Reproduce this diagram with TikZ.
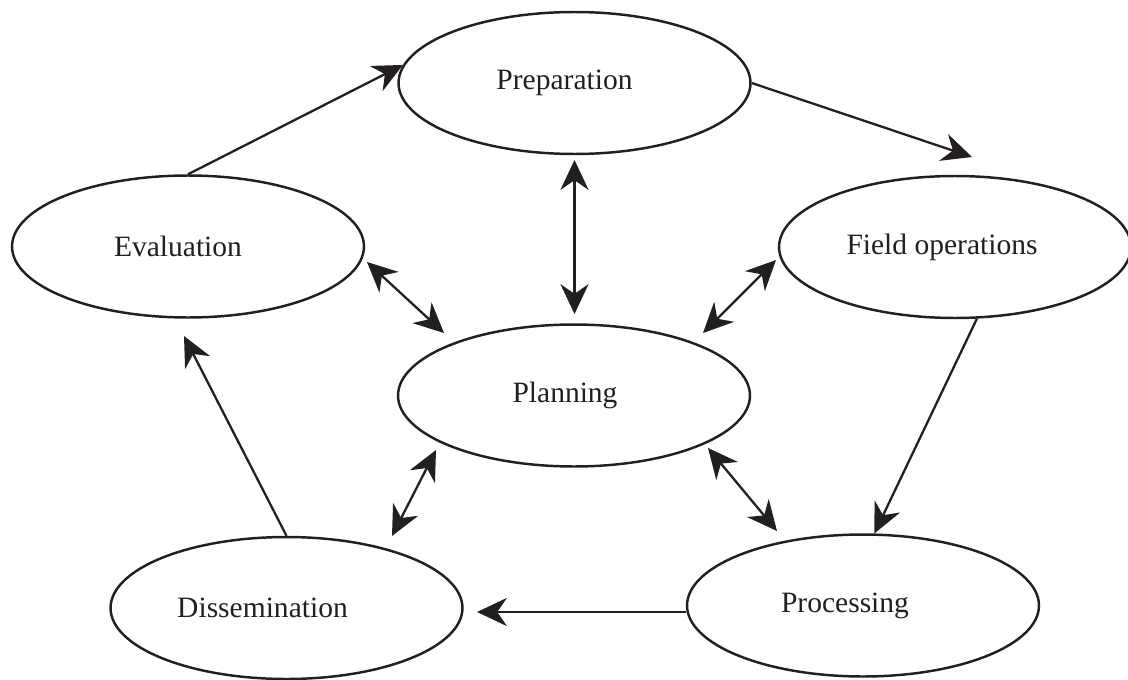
\documentclass[tikz,border=0pt]{standalone}
\usepackage{fontspec}
\setmainfont{Liberation Serif}
\usetikzlibrary{arrows.meta,shapes.geometric}
\definecolor{ink}{HTML}{231F20}
\begin{document}
\begin{tikzpicture}[x=0.02cm,y=-0.02cm,
  stage/.style={ellipse, draw=ink, line width=1.4pt, minimum width=7.04cm, minimum height=2.84cm, inner sep=0pt, text=ink, font=\fontsize{16.8}{19}\selectfont},
  flow/.style={draw=ink, line width=1.3pt, -{Stealth[length=17pt,width=16pt,inset=5.5pt]}},
  twoway/.style={draw=ink, line width=1.3pt, {Stealth[length=17pt,width=16pt,inset=5.5pt]}-{Stealth[length=17pt,width=16pt,inset=5.5pt]}}]
\useasboundingbox (0,0) rectangle (1128,679);
\node[stage] (prep)  at (574.5,83)  {Preparation\hspace*{0.4cm}};
\node[stage] (eval)  at (188,246.5) {Evaluation\hspace*{0.4cm}};
\node[stage] (field) at (955,247)   {Field operations\hspace*{0.52cm}};
\node[stage] (plan)  at (574,395.5) {Planning\hspace*{0.36cm}};
\node[stage] (diss)  at (286.5,608) {Dissemination\hspace*{0.96cm}};
\node[stage] (proc)  at (863,605.5) {Processing\hspace*{0.72cm}};
% free ends
\coordinate (ftip) at (972,157);
\coordinate (dtip) at (477,612);
\coordinate (etip) at (184,336);
\coordinate (pa) at (574.5,160);
\coordinate (pb) at (574.5,314);
\coordinate (ea) at (367,262);
\coordinate (eb) at (444,333);
\coordinate (fa) at (776,260);
\coordinate (fb) at (703,333);
\coordinate (da) at (436,450);
\coordinate (db) at (392,536);
\coordinate (ra) at (708,448);
\coordinate (rb) at (777,531);
% cycle
\draw[flow] (eval.north) -- (prep.174);
\draw[flow] (prep.east) -- (ftip);
\draw[flow] (field.287) -- (proc.81);
\draw[flow] (proc.west |- dtip) -- (dtip);
\draw[flow] (diss.north) -- (etip);
% two-way links with Planning
\draw[twoway] (pa) -- (pb);
\draw[twoway] (ea) -- (eb);
\draw[twoway] (fa) -- (fb);
\draw[twoway] (da) -- (db);
\draw[twoway] (ra) -- (rb);
\end{tikzpicture}
\end{document}
